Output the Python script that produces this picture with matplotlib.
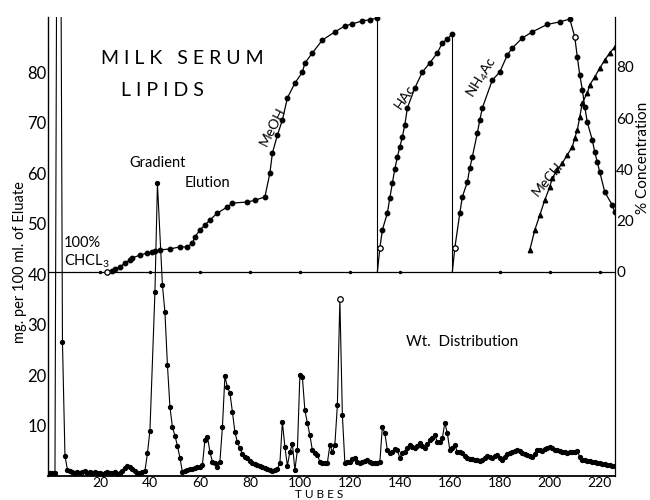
import matplotlib
matplotlib.use("Agg")
import matplotlib.pyplot as plt

# --- weight distribution (mg per 100 ml of eluate) per tube ---
wt_tube = [0, 1, 2, 3, 4, 5, 6, 7, 8, 9, 10, 11, 12, 13, 14, 15, 16, 17, 18, 19,
           20, 21, 22, 23, 24, 25, 26, 27, 28, 29, 30, 31, 32, 33, 34, 35, 36, 37, 38, 39,
           40, 42, 43, 45, 46, 47, 48, 49, 50, 51, 52, 53, 54, 55, 56, 57, 58, 59,
           60, 61, 62, 63, 64, 65, 66, 67, 68, 69, 70, 71, 72, 73, 74, 75, 76, 77, 78, 79,
           80, 81, 82, 83, 84, 85, 86, 87, 88, 89, 90, 91, 92, 93, 94, 95, 96, 97, 98, 99,
           100, 101, 102, 103, 104, 105, 106, 107, 108, 109, 110, 111, 112, 113, 114, 115, 116, 117, 118, 119,
           120, 121, 122, 123, 124, 125, 126, 127, 128, 129, 130, 131, 132, 133, 134, 135, 136, 137, 138, 139,
           140, 141, 142, 143, 144, 145, 146, 147, 148, 149, 150, 151, 152, 153, 154, 155, 156, 157, 158, 159,
           160, 161, 162, 163, 164, 165, 166, 167, 168, 169, 170, 171, 172, 173, 174, 175, 176, 177, 178, 179,
           180, 181, 182, 183, 184, 185, 186, 187, 188, 189, 190, 191, 192, 193, 194, 195, 196, 197, 198, 199,
           200, 201, 202, 203, 204, 205, 206, 207, 208, 209, 210, 211, 212, 213, 214, 215, 216, 217, 218, 219,
           220, 221, 222, 223, 224, 225, 226]
wt_mg = [0.5, 0.5, 0.5, 150, 150, 26.5, 4.0, 1.2, 1.0, 0.8, 0.6, 0.8, 0.5, 0.7, 0.9, 0.6, 0.8, 0.5, 0.7, 0.6,
         0.6, 0.4, 0.5, 0.7, 0.5, 0.6, 0.8, 0.4, 0.6, 1.0, 1.6, 1.9, 1.8, 1.4, 0.9, 0.6, 0.5, 0.7, 1.0, 4.5,
         9.0, 36.4, 58.0, 37.8, 32.5, 22.0, 13.7, 9.7, 8.0, 6.0, 3.6, 0.8, 1.0, 1.2, 1.3, 1.4, 1.6, 1.7,
         1.8, 2.2, 7.1, 7.8, 4.8, 2.8, 2.6, 1.8, 2.8, 9.7, 19.8, 17.6, 16.5, 12.7, 8.7, 6.7, 5.5, 4.4, 3.8, 3.5,
         3.0, 2.5, 2.4, 2.2, 2.0, 1.8, 1.6, 1.4, 1.1, 1.0, 1.2, 1.4, 2.5, 10.7, 5.8, 2.0, 4.8, 6.3, 1.2, 5.1,
         20.0, 19.6, 13.0, 10.5, 8.1, 5.1, 4.5, 4.2, 2.8, 2.6, 2.5, 2.6, 6.1, 4.8, 6.2, 14.0, 35.0, 12.1, 2.6, 2.8,
         2.8, 3.3, 3.5, 2.8, 2.5, 2.7, 3.0, 3.2, 2.8, 2.6, 2.5, 2.5, 2.8, 9.7, 8.5, 5.1, 4.6, 4.8, 5.3, 5.1,
         3.6, 4.5, 4.8, 5.5, 6.1, 5.8, 5.5, 6.0, 6.5, 6.0, 5.5, 6.3, 7.1, 7.6, 8.1, 6.7, 6.8, 7.5, 10.5, 8.5,
         5.1, 5.6, 6.1, 4.8, 4.7, 4.6, 4.0, 3.6, 3.4, 3.3, 3.2, 3.2, 3.0, 3.2, 3.6, 4.0, 3.8, 3.6, 4.0, 4.2,
         3.5, 3.2, 3.8, 4.3, 4.6, 4.8, 5.0, 5.1, 4.9, 4.6, 4.3, 4.2, 4.0, 3.8, 4.4, 5.1, 5.2, 5.0, 5.3, 5.6,
         5.8, 5.5, 5.2, 5.1, 5.0, 4.8, 4.7, 4.6, 4.7, 4.8, 4.8, 4.9, 3.8, 3.2, 3.1, 3.0, 2.9, 2.8, 2.7, 2.6,
         2.5, 2.4, 2.3, 2.2, 2.1, 2.0, 2.0]

# --- gradient, % concentration ---
meoh_tube = [23, 25, 26, 28, 30, 32, 33, 36, 39, 41, 42, 44, 48, 52, 55, 57, 58, 60, 62, 64,
             67, 71, 73, 79, 82, 86, 88, 89, 91, 93, 95, 98, 101, 102, 105, 109, 114, 118, 121, 125,
             128, 131, 131]
meoh_pct = [0, 0.5, 1.2, 2, 3.5, 4.7, 5.5, 6.6, 7.4, 7.8, 8.2, 8.6, 9.0, 9.8, 9.8, 11.3, 13.7, 16.4, 18.3, 20.3,
            23.0, 25.4, 26.9, 27.3, 28.0, 29.3, 38.6, 46.4, 53.4, 59.3, 67.9, 73.7, 78.0, 81.5, 85.5, 90.5, 93.7, 96.0, 96.8, 98.0,
            98.4, 99.1, 0]

hac_tube = [131, 132, 133, 135, 136, 137, 138, 139, 140, 141, 142, 143, 146, 149, 152, 155, 157, 159, 161, 161]
hac_pct = [0, 9.4, 16.4, 23.0, 28.9, 34.7, 40.2, 44.9, 48.8, 52.7, 57.4, 64.0, 71.8, 78.0, 81.6, 85.5, 89.4, 90.9, 92.9, 0]

nh4_tube = [161, 162, 164, 165, 167, 168, 169, 171, 172, 173, 177, 180, 183, 185, 189, 193, 199, 204, 208,
            210, 211, 212, 213, 214, 215, 217, 218, 219, 220, 222, 225, 226]
nh4_pct = [0, 9.4, 23.0, 29.3, 35.1, 40.6, 44.9, 54.2, 59.3, 64.0, 74.9, 78.0, 84.7, 87.4, 91.3, 93.7, 96.6, 97.6, 98.7,
           91.7, 83.9, 76.9, 71.2, 64.4, 58.5, 51.5, 46.8, 42.9, 39.0, 31.2, 26.1, 23.4]

mech_tube = [192, 194, 196, 198, 200, 201, 203, 205, 207, 209, 210, 211, 212, 213, 215, 216, 218, 220, 222, 224, 226]
mech_pct = [8.6, 16.4, 22.2, 28.1, 33.2, 36.7, 39.8, 42.5, 45.7, 48.8, 52.3, 55.4, 60.5, 66.0, 69.9, 73.0, 76.1,
            79.6, 82.7, 85.5, 87.8]

# open circles seen on the gradient curves
open_tube = [23, 132, 162, 210]
open_pct = [0, 9.4, 9.4, 91.7]

zero_marks = [20, 40, 60, 80, 100, 120, 140, 180, 200, 220]

plt.rcParams['font.family'] = ['Lato', 'DejaVu Sans']
plt.rcParams['mathtext.fontset'] = 'custom'
plt.rcParams['mathtext.rm'] = 'Lato'
plt.rcParams['mathtext.it'] = 'Lato'
plt.rcParams['mathtext.bf'] = 'Lato'

fig = plt.figure(figsize=(6.5, 5), dpi=100)
ax = fig.add_axes([0.0738, 0.048, 0.872, 0.918])
ax2 = ax.twinx()

# weight distribution
ax.plot(wt_tube, wt_mg, color='black', lw=0.8, marker='o', ms=2.8)
ax.plot([116], [35.0], ls='none', marker='o', ms=4, mfc='white', mec='black', mew=0.9)

# gradient curves on % axis
ax2.axhline(0, color='black', lw=0.9)
ax2.plot(zero_marks, [0] * len(zero_marks), ls='none', marker='.', ms=3, color='black')
ax2.plot(meoh_tube[:-1], meoh_pct[:-1], color='black', lw=0.9, marker='o', ms=3.2)
ax2.plot(meoh_tube[-2:], meoh_pct[-2:], color='black', lw=0.8)
ax2.plot(hac_tube[1:-1], hac_pct[1:-1], color='black', lw=0.9, marker='o', ms=3.2)
ax2.plot(hac_tube[:2], hac_pct[:2], color='black', lw=0.9)
ax2.plot(hac_tube[-2:], hac_pct[-2:], color='black', lw=0.8)
ax2.plot(nh4_tube[1:], nh4_pct[1:], color='black', lw=0.9, marker='o', ms=3.2)
ax2.plot(nh4_tube[:2], nh4_pct[:2], color='black', lw=0.9)
ax2.plot(mech_tube, mech_pct, color='black', lw=0.9, marker='^', ms=3.2)
ax2.plot(open_tube, open_pct, ls='none', marker='o', ms=3.8, mfc='white', mec='black', mew=0.9)

ax.set_xlim(-0.8, 226)
ax.set_ylim(0, 91)
ax2.set_ylim(-79.6, 99.5)

ax.set_xticks(range(20, 221, 20))
ax.set_yticks([10, 20, 30, 40, 50, 60, 70, 80])
ax2.set_yticks([0, 20, 40, 60, 80])
ax.tick_params(axis='x', length=0, pad=0.5, labelsize=10)
ax.tick_params(axis='y', length=0, pad=1, labelsize=12)
ax2.tick_params(axis='y', length=0, pad=1, labelsize=11)

for a in (ax, ax2):
    a.spines['top'].set_visible(False)
ax.spines['right'].set_visible(False)
ax2.spines['left'].set_visible(False)
ax2.spines['bottom'].set_visible(False)
ax.spines['left'].set_linewidth(1.0)
ax.spines['bottom'].set_linewidth(1.3)
ax2.spines['right'].set_linewidth(0.9)

# labels
ax.text(53, 82.8, "M I L K   S E R U M", fontsize=14, ha='center', va='center')
ax.text(45, 76.4, "L I P I D S", fontsize=14, ha='center', va='center')
ax.text(43, 62, "Gradient", fontsize=10.5, ha='center', va='center')
ax.text(63, 58, "Elution", fontsize=10.5, ha='center', va='center')
ax.text(5.6, 46.1, "100%", fontsize=10.5, ha='left', va='center')
ax.text(5.6, 42.6, "CHCL$_3$", fontsize=10.5, ha='left', va='center')
ax.text(89, 69.3, "MeOH", fontsize=10, ha='center', va='center', rotation=63)
ax.text(142, 75.2, "HAc", fontsize=10, ha='center', va='center', rotation=56)
ax.text(173, 79, "NH$_4$Ac", fontsize=10, ha='center', va='center', rotation=58)
ax.text(199, 58.8, "MeCH", fontsize=10, ha='center', va='center', rotation=50)
ax.text(165, 26.5, "Wt.  Distribution", fontsize=11, ha='center', va='center')

fig.text(319 / 650, 1 - 495 / 500, "T U B E S", fontsize=8.5, ha='center', va='center')
fig.text(20 / 650, 1 - 262 / 500, "mg. per 100 ml. of Eluate", fontsize=10.5, rotation=90,
         ha='center', va='center')
fig.text(643 / 650, 1 - 158 / 500, "% Concentration", fontsize=11, rotation=90,
         ha='center', va='center')

fig.savefig("out.png", dpi=100)
